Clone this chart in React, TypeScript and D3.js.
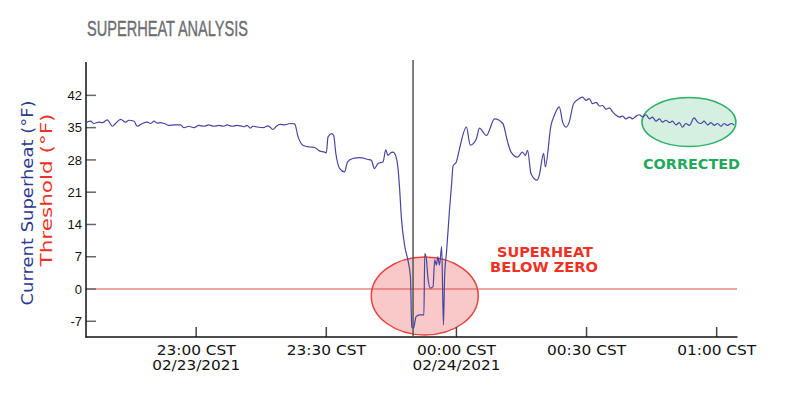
import React, { useEffect, useRef } from 'react';
import * as d3 from 'd3';

// time axis: data minutes are counted from startTime
const startTime = new Date(2021, 1, 23, 22, 34, 36);
const endTime = new Date(2021, 1, 24, 1, 4, 48);
const markerTime = new Date(2021, 1, 23, 23, 50, 0);

const tickTimes = [
    new Date(2021, 1, 23, 23, 0),
    new Date(2021, 1, 23, 23, 30),
    new Date(2021, 1, 24, 0, 0),
    new Date(2021, 1, 24, 0, 30),
    new Date(2021, 1, 24, 1, 0),
];
const tickTimeLabels = ['23:00 CST', '23:30 CST', '00:00 CST', '00:30 CST', '01:00 CST'];
const tickDateLabels = ['02/23/2021', '', '02/24/2021', '', ''];

const yTicks = [-7, 0, 7, 14, 21, 28, 35, 42];
const thresholdValue = 0;

const minutes = [
    0, 1.1, 1.8, 3.0, 3.8, 4.9, 6.1, 6.8, 8.0, 9.1, 9.9, 11.1, 11.8, 13.0, 14.1, 14.9, 15.7, 16.4, 17.2, 18.0,
    19.1, 20.3, 21.8, 22.6, 23.7, 24.9, 26.0, 27.2, 28.3, 29.5, 30.6, 31.8, 32.5, 33.7, 34.8, 36.0, 36.5, 37.1,
    37.9, 38.5, 39.7, 40.8, 42.0, 43.1, 43.9, 44.7, 45.8, 47.0, 48.1, 48.9, 50.0, 51.6, 52.7, 53.9, 55.0, 55.4,
    55.8, 56.6, 57.1, 57.6, 58.5, 59.6, 60.3, 61.5, 63.1, 65.0, 65.8, 66.5, 67.3, 68.5, 69.1, 69.6, 70.2, 70.8,
    71.5, 71.9, 72.3, 72.7, 73.5, 74.2, 74.8, 75.1, 75.5, 76.1, 76.9, 77.9, 78.1, 78.5, 78.8, 79.4, 80.0, 80.4,
    80.8, 81.1, 81.5, 82.0, 82.4, 82.7, 83.1, 83.8, 84.3, 84.6, 85.4, 86.1, 87.7, 88.6, 90.0, 90.7, 92.3, 94.2,
    96.1, 97.2, 98.0, 99.5, 100.6, 101.3, 101.8, 102.6, 104.0, 104.5, 105.5, 105.9, 107.2, 108.0, 109.1, 109.9,
    110.7, 111.4, 112.4, 113.4, 114.5, 115.3, 116.0, 116.8, 117.6, 118.4, 119.1, 119.9, 120.7, 121.4, 122.2,
    123.0, 123.7, 124.5, 125.3, 126.0, 126.8, 127.6, 128.3, 129.1, 129.9, 130.6, 131.4, 132.2, 132.9, 133.7,
    134.5, 135.2, 136.0, 136.8, 137.5, 138.3, 139.1, 140.2, 141.0, 141.8, 142.5, 143.3, 144.1, 144.8, 145.6,
    146.4, 147.1, 147.9, 148.7, 149.4,
];

const superheat = [
    36.1, 36.4, 35.9, 36.2, 36.1, 36.7, 35.3, 35.9, 36.8, 36.2, 36.6, 36.4, 35.3, 35.9, 36.2, 35.9, 36.4, 36.0, 36.1, 35.9,
    35.5, 35.6, 35.6, 35.0, 35.3, 35.0, 35.5, 35.3, 35.6, 35.3, 35.5, 35.3, 35.6, 35.3, 35.5, 35.3, 35.2, 35.5,
    34.9, 35.3, 35.1, 35.0, 35.4, 34.6, 35.3, 35.7, 35.6, 35.9, 35.8, 33.0, 31.2, 30.8, 30.7, 29.9, 29.7, 29.5,
    33.0, 33.7, 33.3, 29.4, 26.1, 25.4, 27.6, 28.3, 28.5, 28.1, 27.9, 26.1, 27.2, 27.6, 30.2, 29.0, 29.5, 29.7,
    28.6, 26.5, 21.8, 15.6, 9.2, 6.3, 2.7, -8.2, -8.5, -6.0, -5.6, -5.6, 7.7, 6.3, 2.7, 0.2, 0.5, 6.3,
    5.2, 7.0, 5.2, 9.2, -7.8, 3.4, 7.8, 17.1, 22.9, 26.6, 27.6, 30.4, 35.1, 31.2, 32.6, 34.9, 33.3, 36.9,
    35.9, 31.9, 29.7, 28.6, 29.7, 29.0, 30.1, 25.0, 23.6, 24.7, 29.4, 26.5, 35.5, 37.7, 39.5, 36.2,
    35.1, 36.2, 40.2, 41.1, 41.6, 40.9, 41.3, 40.2, 40.5, 39.7, 39.8, 39.0, 39.3, 38.4, 37.7,
    37.3, 37.5, 36.9, 37.3, 36.9, 37.5, 37.8, 37.3, 37.8, 36.9, 37.3, 36.4, 36.9, 36.2, 36.6,
    36.1, 36.4, 35.6, 36.1, 35.1, 35.9, 35.5, 37.1, 36.2, 35.9, 36.4, 35.6, 36.1, 35.5, 35.9,
    35.3, 35.9, 35.5, 35.9, 35.6,
];

const Chart = () => {
    const chartRef = useRef(null);

    useEffect(() => {
        drawChart();
    }, []);

    const drawChart = () => {
        d3.select(chartRef.current).selectAll('svg').remove();
        const svg = d3.select(chartRef.current)
            .append('svg')
            .attr('width', 787)
            .attr('height', 396)
            .style('position', 'absolute')
            .style('left', 0)
            .style('top', 0);

        const x = d3.scaleTime().domain([startTime, endTime]).range([86, 737.5]);
        const y = d3.scaleLinear().domain([-10.41, 49.24]).range([337, 62]);

        const data = minutes.map((m, i) => ({
            time: d3.timeSecond.offset(startTime, Math.round(m * 60)),
            value: superheat[i],
        }));

        // title
        svg.append('text')
            .attr('x', 87)
            .attr('y', 36)
            .attr('textLength', 161)
            .attr('lengthAdjust', 'spacingAndGlyphs')
            .style('font-family', '"Liberation Sans Narrow", "Liberation Sans", sans-serif')
            .style('font-size', '22px')
            .style('fill', '#6d6e71')
            .style('stroke', '#6d6e71')
            .style('stroke-width', 0.4)
            .text('SUPERHEAT ANALYSIS');

        // annotation shapes (drawn under the line)
        svg.append('ellipse')
            .attr('cx', x(d3.timeSecond.offset(startTime, 78.1 * 60)))
            .attr('cy', y(-1.5))
            .attr('rx', 53.5)
            .attr('ry', 39)
            .attr('fill', '#f9c8c8')
            .attr('stroke', '#e8413b')
            .attr('stroke-width', 1.5);

        svg.append('ellipse')
            .attr('cx', x(d3.timeSecond.offset(startTime, 139 * 60)))
            .attr('cy', y(36.2))
            .attr('rx', 47)
            .attr('ry', 24.5)
            .attr('fill', '#d5efe0')
            .attr('stroke', '#2bb065')
            .attr('stroke-width', 1.5);

        // threshold
        svg.append('line')
            .attr('x1', 86)
            .attr('x2', 737)
            .attr('y1', y(thresholdValue))
            .attr('y2', y(thresholdValue))
            .attr('stroke', '#e04a4a')
            .attr('stroke-width', 1);

        // y axis ticks + labels
        const yAxis = svg.append('g');
        yAxis.selectAll('line')
            .data(yTicks)
            .enter()
            .append('line')
            .attr('x1', 86)
            .attr('x2', 96)
            .attr('y1', d => y(d))
            .attr('y2', d => y(d))
            .attr('stroke', '#666')
            .attr('stroke-width', 1.5);
        yAxis.selectAll('text')
            .data(yTicks)
            .enter()
            .append('text')
            .attr('x', 82)
            .attr('y', d => y(d))
            .attr('dy', '0.36em')
            .style('text-anchor', 'end')
            .style('font-family', '"Liberation Sans", Arial, sans-serif')
            .style('font-size', '13px')
            .style('fill', '#111')
            .text(d => d);

        // x axis ticks + labels
        const xAxis = svg.append('g');
        xAxis.selectAll('line')
            .data(tickTimes)
            .enter()
            .append('line')
            .attr('x1', d => x(d))
            .attr('x2', d => x(d))
            .attr('y1', 327)
            .attr('y2', 337)
            .attr('stroke', '#444')
            .attr('stroke-width', 1.5);
        xAxis.selectAll('text.time')
            .data(tickTimes)
            .enter()
            .append('text')
            .attr('class', 'time')
            .attr('x', d => x(d))
            .attr('y', 355)
            .attr('textLength', 79)
            .attr('lengthAdjust', 'spacingAndGlyphs')
            .style('text-anchor', 'middle')
            .style('font-family', '"DejaVu Sans", sans-serif')
            .style('font-size', '14px')
            .style('fill', '#111')
            .text((d, i) => tickTimeLabels[i]);
        xAxis.selectAll('text.date')
            .data(tickTimes.filter((d, i) => tickDateLabels[i] !== ''))
            .enter()
            .append('text')
            .attr('class', 'date')
            .attr('x', d => x(d))
            .attr('y', 370)
            .attr('textLength', 88)
            .attr('lengthAdjust', 'spacingAndGlyphs')
            .style('text-anchor', 'middle')
            .style('font-family', '"DejaVu Sans", sans-serif')
            .style('font-size', '14px')
            .style('fill', '#111')
            .text(d => tickDateLabels[tickTimes.indexOf(d)]);

        // axis lines
        svg.append('line')
            .attr('x1', 86).attr('x2', 86)
            .attr('y1', 62).attr('y2', 337.5)
            .attr('stroke', '#111').attr('stroke-width', 1.5);
        svg.append('line')
            .attr('x1', 85.5).attr('x2', 737.5)
            .attr('y1', 337).attr('y2', 337)
            .attr('stroke', '#111').attr('stroke-width', 1.5);

        // marker line
        svg.append('line')
            .attr('x1', x(markerTime))
            .attr('x2', x(markerTime))
            .attr('y1', 60)
            .attr('y2', 337)
            .attr('stroke', '#555')
            .attr('stroke-width', 1.5);

        // superheat line
        const line = d3.line()
            .x(d => x(d.time))
            .y(d => y(d.value))
            .curve(d3.curveMonotoneX);

        svg.append('path')
            .datum(data)
            .attr('d', line)
            .attr('fill', 'none')
            .attr('stroke', '#4646a3')
            .attr('stroke-width', 1.2);

        // annotation texts
        const note = (txt, cx, cy, color, len) => svg.append('text')
            .attr('x', cx)
            .attr('y', cy)
            .attr('textLength', len)
            .attr('lengthAdjust', 'spacingAndGlyphs')
            .style('text-anchor', 'middle')
            .style('font-family', '"DejaVu Sans", sans-serif')
            .style('font-weight', 'bold')
            .style('font-size', '14px')
            .style('fill', color)
            .text(txt);
        note('SUPERHEAT', 545, 256.5, '#ee3124', 96);
        note('BELOW ZERO', 544, 271.5, '#ee3124', 108);
        note('CORRECTED', 691.5, 169, '#22a85c', 97);

        // y axis titles
        svg.append('text')
            .attr('transform', 'translate(32.5,203) rotate(-90)')
            .attr('textLength', 205)
            .attr('lengthAdjust', 'spacingAndGlyphs')
            .style('text-anchor', 'middle')
            .style('font-family', '"DejaVu Sans", sans-serif')
            .style('font-size', '16px')
            .style('fill', '#2b3a8f')
            .text('Current Superheat (°F)');
        svg.append('text')
            .attr('transform', 'translate(51.5,190) rotate(-90)')
            .attr('textLength', 153)
            .attr('lengthAdjust', 'spacingAndGlyphs')
            .style('text-anchor', 'middle')
            .style('font-family', '"DejaVu Sans", sans-serif')
            .style('font-size', '16px')
            .style('fill', '#ee3124')
            .text('Threshold (°F)');
    };

    return <div ref={chartRef}></div>;
};

export default function App() {
    return <Chart />;
}
